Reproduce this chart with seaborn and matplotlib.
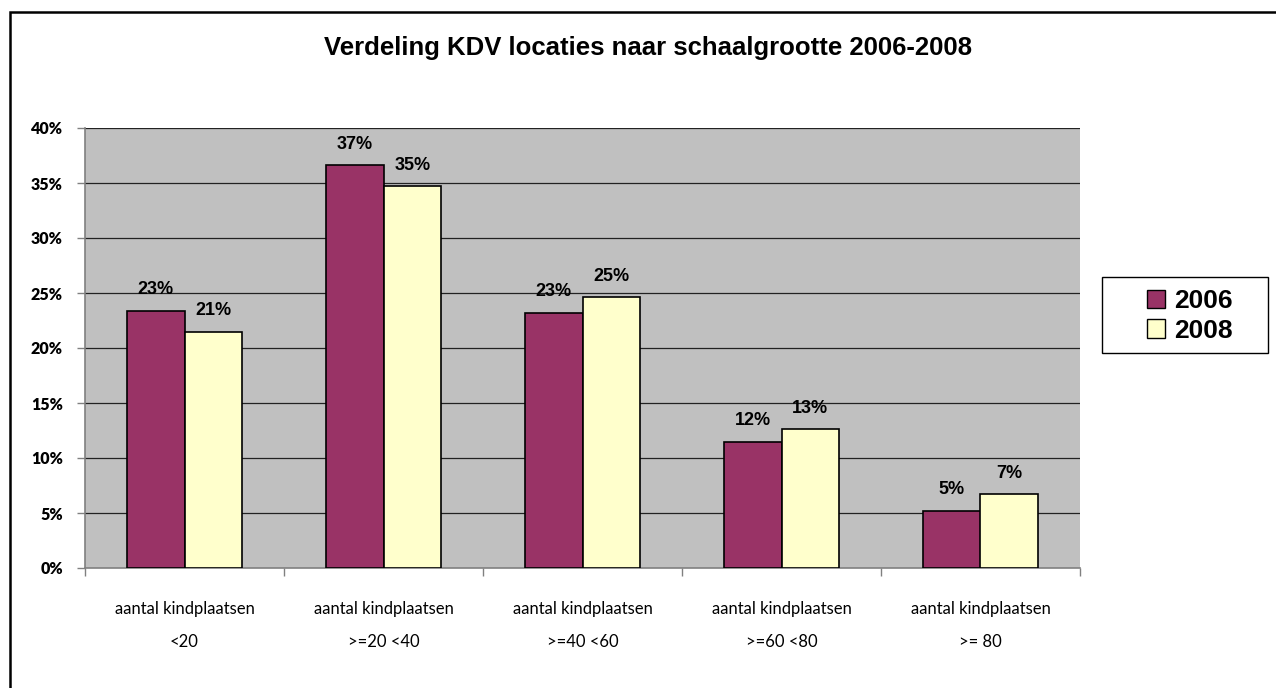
import pandas as pd
import seaborn as sns
import matplotlib.pyplot as plt
from matplotlib.patches import Rectangle
from matplotlib.ticker import FixedLocator, PercentFormatter

categories = [
    "aantal kindplaatsen\n<20",
    "aantal kindplaatsen\n>=20 <40",
    "aantal kindplaatsen\n>=40 <60",
    "aantal kindplaatsen\n>=60 <80",
    "aantal kindplaatsen\n>= 80",
]
years = ["2006", "2008"]
values_2006 = [23.4, 36.6, 23.2, 11.5, 5.2]
values_2008 = [21.5, 34.7, 24.6, 12.6, 6.7]
labels_2006 = ["23%", "37%", "23%", "12%", "5%"]
labels_2008 = ["21%", "35%", "25%", "13%", "7%"]
colors = ["#993366", "#FFFFCC"]

df = pd.DataFrame({
    "cat": categories * 2,
    "year": [years[0]] * 5 + [years[1]] * 5,
    "value": values_2006 + values_2008,
})

sns.set_style("white")
plt.rcParams["font.family"] = ["Liberation Sans", "DejaVu Sans"]
plt.rcParams["text.color"] = "black"
plt.rcParams["xtick.color"] = "black"
plt.rcParams["ytick.color"] = "black"

fig = plt.figure(figsize=(12.76, 6.88), dpi=100)
ax = fig.add_axes([85 / 1276, 1 - 568 / 688, 995 / 1276, 440 / 688])
ax.set_facecolor("#C0C0C0")

sns.barplot(data=df, x="cat", y="value", hue="year", palette=colors,
            width=0.58, edgecolor="black", linewidth=1.2, saturation=1,
            ax=ax, legend=True, zorder=3)

ax.set_ylim(0, 40)
ax.set_xlim(-0.5, 4.5)
ax.set_yticks(range(0, 41, 5))
ax.yaxis.set_major_formatter(PercentFormatter(decimals=0))
for y in range(5, 41, 5):
    ax.axhline(y, color="#222222", linewidth=0.9, zorder=1)

for s in ["top", "right"]:
    ax.spines[s].set_visible(False)
ax.spines["left"].set_color("#808080")
ax.spines["bottom"].set_color("#808080")
ax.spines["left"].set_linewidth(1.2)
ax.spines["bottom"].set_linewidth(1.2)

ax.tick_params(axis="y", length=6, width=1, color="#808080", labelcolor="black",
               pad=10, left=True)
for t in ax.get_yticklabels():
    t.set_fontweight("heavy")
    t.set_fontsize(11.5)
    t.set_family(["Lato", "DejaVu Sans"])

ax.xaxis.set_minor_locator(FixedLocator([-0.5, 0.5, 1.5, 2.5, 3.5, 4.5]))
ax.tick_params(axis="x", which="minor", length=6, width=1, color="#808080", bottom=True)
ax.tick_params(axis="x", which="major", length=0, pad=24, labelcolor="black")
for t in ax.get_xticklabels():
    t.set_fontsize(12)
    t.set_family(["Lato", "DejaVu Sans"])
    t.set_linespacing(2.25)
ax.set_xlabel("")
ax.set_ylabel("")

for cont, labs in zip(ax.containers, [labels_2006, labels_2008]):
    ax.bar_label(cont, labels=labs, padding=9, fontsize=13, fontweight="bold",
                 color="black")

leg = ax.legend(loc="center", bbox_to_anchor=(1190 / 1276, 1 - 316 / 688),
                bbox_transform=fig.transFigure, frameon=False,
                prop={"weight": "bold", "size": 19}, handlelength=0.7,
                handleheight=0.7, handletextpad=0.35, borderpad=0.2,
                labelspacing=0.2, borderaxespad=0)
for h in leg.legend_handles:
    h.set_edgecolor("black")
    h.set_linewidth(1.0)
fig.patches.append(Rectangle((1102 / 1276, 1 - 353 / 688), 166 / 1276, 76 / 688,
                             transform=fig.transFigure, fill=False,
                             edgecolor="black", linewidth=1.0))

fig.text(648 / 1276, 1 - 48 / 688,
         "Verdeling KDV locaties naar schaalgrootte 2006-2008",
         ha="center", va="center", fontsize=18.5, fontweight="bold")

fig.patches.append(Rectangle((10 / 1276, -0.05), 1.1, 1 - 12 / 688 + 0.05,
                             transform=fig.transFigure, fill=False,
                             edgecolor="black", linewidth=1.8))

fig.savefig("out.png", dpi=100)
